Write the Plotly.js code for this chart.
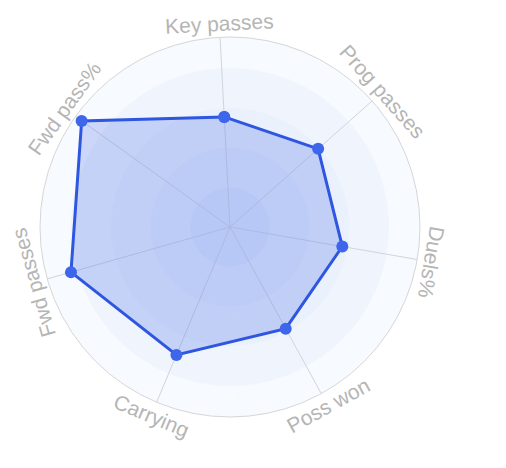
<!DOCTYPE html>
<html>
<head>
<meta charset="utf-8">
<script src="https://cdn.plot.ly/plotly-3.0.1.min.js"></script>
<style>
  html, body { margin: 0; padding: 0; background: #ffffff; }
  #radar { width: 506px; height: 468px; }
</style>
</head>
<body>
<div id="radar"></div>
<script>
// Categories, clockwise from the top
const categories = ['Key passes', 'Prog passes', 'Duels%', 'Poss won', 'Carrying', 'Fwd passes', 'Fwd pass%'];
const values = [58, 62, 60, 61, 73, 87, 96];

// Background rings (outer to inner) and their fills
const bandRadii = [100, 83.5, 62.5, 41.5, 20.5];
const bandColors = ['#f7fafe', '#f0f5fd', '#eaf1fc', '#e4edfb', '#dde8fa'];

const rotation = 93;
const lineBlue = '#2f56e0';

const traces = [];

// Rings drawn as full-width polar bars, biggest first
bandRadii.forEach((r, i) => {
    traces.push({
        type: 'barpolar',
        theta: categories,
        r: categories.map(() => r),
        marker: {
            color: bandColors[i],
            line: { color: bandColors[i], width: 0.6 }
        },
        hoverinfo: 'skip',
        showlegend: false
    });
});

// Spokes (the grid sits under the bars, so draw them as lines)
categories.forEach(name => {
    traces.push({
        type: 'scatterpolar',
        theta: [name, name],
        r: [0, 100],
        mode: 'lines',
        line: { color: '#d0d4dc', width: 1 },
        hoverinfo: 'skip',
        showlegend: false
    });
});

// Player shape
traces.push({
    type: 'scatterpolar',
    theta: categories.concat([categories[0]]),
    r: values.concat([values[0]]),
    mode: 'lines+markers',
    fill: 'toself',
    fillcolor: 'rgba(61, 102, 234, 0.24)',
    line: { color: lineBlue, width: 3 },
    marker: { color: '#3d66ea', size: 12 },
    showlegend: false
});

// Labels follow the circle, bottom ones flipped to stay readable
const labelRadius = 0.5 * 204 / 190;
const annotations = categories.map((name, i) => {
    const deg = rotation - i * 360 / categories.length;
    const rad = deg * Math.PI / 180;
    let angle = 90 - deg;
    if (Math.sin(rad) < -0.5) angle -= 180;
    angle = ((angle + 180) % 360 + 360) % 360 - 180;
    return {
        xref: 'paper',
        yref: 'paper',
        x: 0.5 + labelRadius * Math.cos(rad),
        y: 0.5 + labelRadius * Math.sin(rad),
        xanchor: 'center',
        yanchor: 'middle',
        text: name,
        textangle: angle,
        showarrow: false,
        font: { family: 'Liberation Sans, Arial, sans-serif', size: 21, color: '#b5b5b5' }
    };
});

const layout = {
    width: 506,
    height: 468,
    margin: { l: 40, r: 86, t: 37, b: 51 },
    paper_bgcolor: '#ffffff',
    showlegend: false,
    polar: {
        bgcolor: '#ffffff',
        barmode: 'overlay',
        bargap: 0,
        angularaxis: {
            rotation: rotation,
            direction: 'clockwise',
            showticklabels: false,
            ticks: '',
            showgrid: false,
            showline: true,
            linecolor: '#d6d6d6',
            linewidth: 1
        },
        radialaxis: {
            range: [0, 100],
            showgrid: false,
            showline: false,
            showticklabels: false,
            ticks: ''
        }
    },
    annotations: annotations
};

Plotly.newPlot('radar', traces, layout, { displayModeBar: false, staticPlot: true });
</script>
</body>
</html>
